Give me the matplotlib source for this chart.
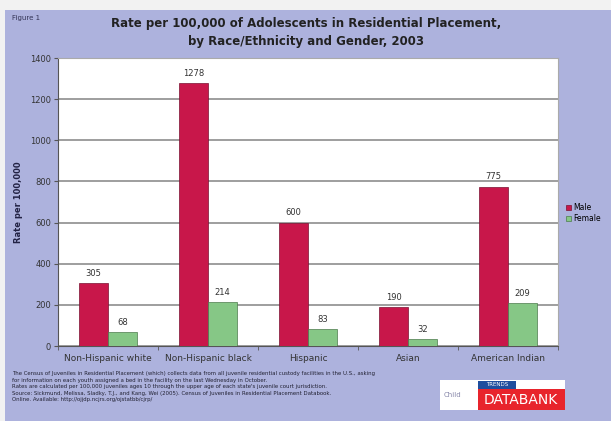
import matplotlib.pyplot as plt
from matplotlib.patches import Rectangle
import numpy as np

categories = ['Non-Hispanic white', 'Non-Hispanic black', 'Hispanic', 'Asian', 'American Indian']
male = [305, 1278, 600, 190, 775]
female = [68, 214, 83, 32, 209]
yticks = [0, 200, 400, 600, 800, 1000, 1200, 1400]

W, H = 611, 421
bg = '#adb2dd'

fig = plt.figure(figsize=(W / 100, H / 100), dpi=100)
fig.patch.set_facecolor('#f2f2f2')
# lavender panel under the light margin
fig.add_artist(Rectangle((5 / W, 0), 1 - 5 / W, 1 - 10 / H, transform=fig.transFigure,
                         facecolor=bg, edgecolor='none', zorder=0))

ax = fig.add_axes([58 / W, 1 - 346 / H, (558 - 58) / W, (346 - 58) / H])
ax.set_facecolor('white')

x = np.arange(len(categories))
bw = 0.29
b1 = ax.bar(x - bw / 2, male, bw, color='#c8174a', edgecolor='#7a1030', linewidth=0.5, label='Male', zorder=3)
b2 = ax.bar(x + bw / 2, female, bw, color='#86c786', edgecolor='#4c7a4c', linewidth=0.5, label='Female', zorder=3)
for rect, v in zip(list(b1) + list(b2), male + female):
    ax.text(rect.get_x() + rect.get_width() / 2, v + 25, str(v), ha='center', va='bottom',
            fontsize=6, color='#333333')

ax.set_xlim(-0.5, len(categories) - 0.5)
ax.set_ylim(0, 1400)
ax.set_yticks(yticks)
ax.set_yticklabels([str(t) for t in yticks], fontsize=6, color='#333333')
ax.set_xticks(x)
ax.set_xticklabels(categories, fontsize=6.5, color='#333333')
ax.set_xticks(np.arange(len(categories) + 1) - 0.5, minor=True)
ax.tick_params(axis='x', which='major', length=0, pad=6)
ax.tick_params(axis='x', which='minor', length=3, color='#555555')
ax.tick_params(axis='y', length=3, color='#555555', pad=2)
ax.yaxis.grid(True, color='#8e8e8e', linewidth=1.2, zorder=0)
for s in ['top', 'right']:
    ax.spines[s].set_color('#aaaaaa')
for s in ['left', 'bottom']:
    ax.spines[s].set_color('#555555')
ax.set_ylabel('Rate per 100,000', fontsize=6, fontweight='bold', color='#222244', labelpad=5)

leg = fig.legend(handles=[b1, b2], labels=['Male', 'Female'], loc='upper left',
                 bbox_to_anchor=(563 / W, 1 - 200 / H), fontsize=5.5, frameon=False,
                 handlelength=0.7, handleheight=0.7, handletextpad=0.3, labelspacing=0.3,
                 borderaxespad=0)

fig.text(12 / W, 1 - 18 / H, 'Figure 1', fontsize=5, color='#333355', va='center')
fig.text(306 / W, 1 - 23 / H, 'Rate per 100,000 of Adolescents in Residential Placement,',
         fontsize=8.5, fontweight='bold', color='#222222', ha='center', va='center')
fig.text(306 / W, 1 - 42 / H, 'by Race/Ethnicity and Gender, 2003',
         fontsize=8.5, fontweight='bold', color='#222222', ha='center', va='center')

notes = ('The Census of Juveniles in Residential Placement (which) collects data from all juvenile residential custody facilities in the U.S., asking\n'
         'for information on each youth assigned a bed in the facility on the last Wednesday in October.\n'
         'Rates are calculated per 100,000 juveniles ages 10 through the upper age of each state\'s juvenile court jurisdiction.\n'
         'Source: Sickmund, Melissa, Sladky, T.J., and Kang, Wei (2005). Census of Juveniles in Residential Placement Databook.\n'
         'Online. Available: http://ojjdp.ncjrs.org/ojstatbb/cjrp/')
fig.text(12 / W, 1 - 371 / H, notes, fontsize=3.9, color='#222233', va='top', linespacing=1.4)

# Child Trends DataBank logo
fig.add_artist(Rectangle((440 / W, 1 - 410 / H), 125 / W, 30 / H, transform=fig.transFigure,
                         facecolor='white', edgecolor='none'))
fig.add_artist(Rectangle((478 / W, 1 - 389 / H), 38 / W, 8 / H, transform=fig.transFigure,
                         facecolor='#1f4e9e', edgecolor='none'))
fig.add_artist(Rectangle((478 / W, 1 - 410 / H), 87 / W, 21 / H, transform=fig.transFigure,
                         facecolor='#e8242c', edgecolor='none'))
fig.text(444 / W, 1 - 395 / H, 'Child', fontsize=5, color='#8888aa', va='center')
fig.text(497 / W, 1 - 385 / H, 'TRENDS', fontsize=4, color='white', va='center', ha='center')
fig.text(521 / W, 1 - 400 / H, 'DATABANK', fontsize=10, color='white', va='center', ha='center')

fig.savefig('out.png', dpi=100, facecolor=fig.get_facecolor())
